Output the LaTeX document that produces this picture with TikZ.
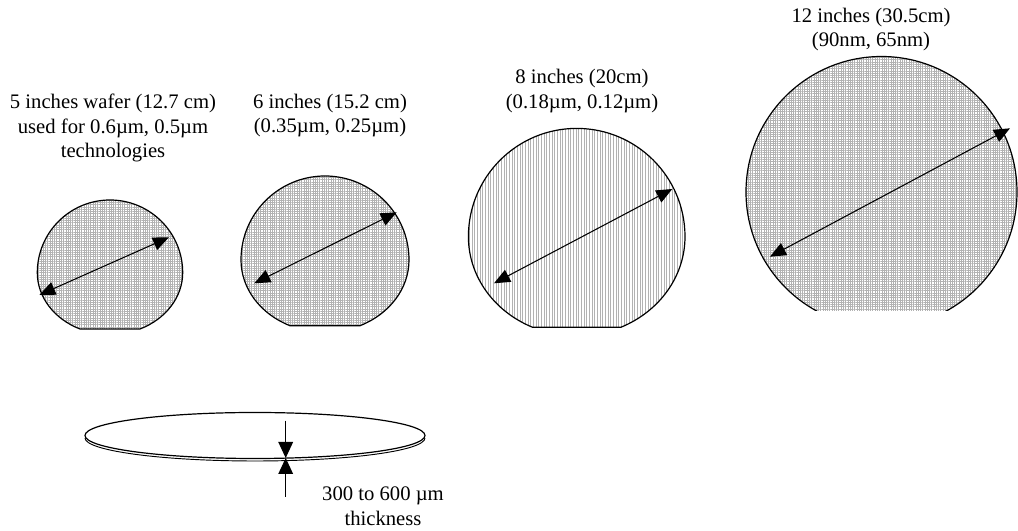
\documentclass[tikz,border=0pt]{standalone}
\usepackage{fontspec}
\setmainfont{Liberation Serif}
\usetikzlibrary{arrows.meta,patterns.meta}
\tikzset{
  wafer/.style={draw=black, line width=.9pt, pattern={Hatch[distance=1.7pt,line width=.35pt]}, pattern color=gray!60},
  waferv/.style={wafer, pattern={Lines[angle=90,distance=2pt,line width=.4pt]}},
  dia/.style={{Triangle[length=12pt,width=10pt]}-{Triangle[length=12pt,width=10pt]}, line width=.8pt},
  thk/.style={-{Triangle[length=12pt,width=11pt]}, line width=.8pt},
  lab/.style={font=\fontsize{15.5}{18.5}\selectfont, align=center, inner sep=0pt},
}
\begin{document}
\begin{tikzpicture}[x=.75pt,y=.75pt]
  \useasboundingbox (0,0) rectangle (1018,531);
  % wafers with a flat
  \foreach \n/\cx/\cy/\r/\ry/\a/\sty in {1/110/258.3/72.7/61.8/65.6/wafer,
      2/325/271/84/72.3/65.4/wafer, 3/576.7/294.3/108.3/99.2/66/waferv}{
    \coordinate (c\n) at (\cx,\cy);
    \pgfmathsetmacro\sa{180+\a}
    \draw[\sty] ([shift={(\sa:\r\space and \ry)}]c\n)
      arc[start angle=\sa, end angle=180, x radius=\r, y radius=\ry]
      arc[start angle=180, end angle=0, radius=\r]
      arc[start angle=0, end angle=-\a, x radius=\r, y radius=\ry] -- cycle;
  }
  % 12 inch wafer, cut off below
  \coordinate (c4) at (881.5,339);
  \begin{scope}
    \clip ([shift={(-150,-119)}]c4) rectangle ++(300,320);
    \draw[wafer] (c4) circle[radius=135.5];
  \end{scope}
  % diameters
  \coordinate (a1) at (39.3,236);    \coordinate (b1) at (169,293.7);
  \coordinate (a2) at (254.3,247.7); \coordinate (b2) at (396.7,318.7);
  \coordinate (a3) at (494,247.7);   \coordinate (b3) at (672.3,342);
  \coordinate (a4) at (770,274.3);   \coordinate (b4) at (1010,402.7);
  \foreach \n in {1,...,4}
    \draw[dia] (a\n) -- (b\n);
  % side view
  \coordinate (sv) at (255,95.5);
  \draw[line width=.9pt] (sv) ellipse[x radius=170, y radius=23];
  \draw[line width=.7pt] ([shift={(-170,-2.5)}]sv) arc[start angle=180, end angle=360, x radius=170, y radius=23];
  \coordinate (ttop) at (285.7,110.3);
  \coordinate (tmid) at (285.7,73);
  \coordinate (tbot) at (285.7,34.3);
  \draw[thk] (ttop) -- (tmid);
  \draw[thk] (tbot) -- (tmid);
  % labels
  \node[lab] (l5in) at (113,403) {5 inches wafer (12.7 cm)\\used for 0.6µm, 0.5µm\\technologies};
  \node[lab] (l6in) at (330,415.5) {6 inches (15.2 cm)\\(0.35µm, 0.25µm)};
  \node[lab] (l8in) at (582,440) {8 inches (20cm)\\(0.18µm, 0.12µm)};
  \node[lab] (l12in) at (871,501.5) {12 inches (30.5cm)\\(90nm, 65nm)};
  \node[lab] (lthk) at (383,25) {300 to 600 µm\\thickness};
\end{tikzpicture}
\end{document}
